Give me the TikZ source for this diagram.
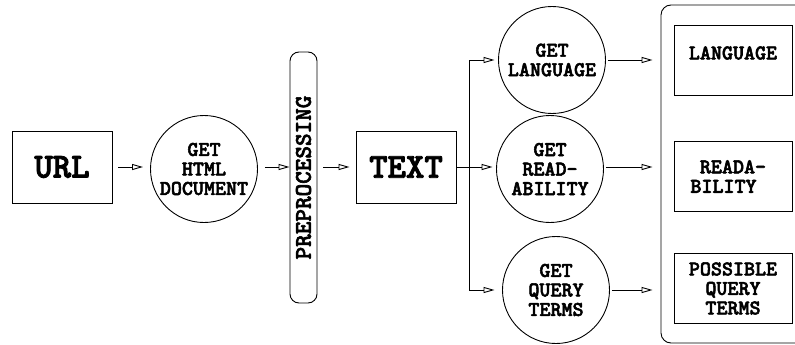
\documentclass[tikz,border=0pt]{standalone}
\usepackage{fontspec}
\newfontfamily\courb{lmmonolt10-bold.otf}[FakeBold=2.5]
\usetikzlibrary{arrows.meta}
\begin{document}
\begin{tikzpicture}[x=1pt,y=-1pt,line width=0.9pt,
  big/.style={font=\fontsize{35}{37}\selectfont\courb},
  sm/.style={font=\fontsize{21}{19.5}\selectfont\courb, align=center},
  sq/.style={draw, minimum width=100pt, minimum height=72pt, inner sep=0pt, big},
  circ/.style={draw, circle, minimum size=107pt, inner sep=0pt, sm},
  res/.style={draw, minimum width=118pt, minimum height=70pt, inner sep=0pt, sm},
  arr/.style={-{Triangle[open,length=11pt,width=6pt]}}]
\useasboundingbox (0,0) rectangle (795,345);
% nodes
\node[sq] (url) at (62,167) {URL};
\node[circ] (html) at (204,169) {GET\\HTML\\DOCUMENT};
\node[draw, rounded corners=9pt, minimum width=27pt, minimum height=251pt, inner sep=0pt,
      font=\fontsize{24}{26}\selectfont\courb] (pre) at (303.5,177.5) {\rotatebox{90}{PREPROCESSING}};
\node[sq] (text) at (406,167) {TEXT};
\coordinate (split) at (469,167);
\node[circ] (cL) at (552,60) {GET\\LANGUAGE};
\node[circ] (cR) at (550,169) {GET\\READ-\\ABILITY};
\node[circ] (cQ) at (556,290) {GET\\QUERY\\TERMS};
\node[draw, rounded corners=10pt, minimum width=150pt, minimum height=338pt, inner sep=0pt] (outer) at (736,174) {};
\node[res] (bL) at (733,60) {\raisebox{7pt}[\height][\depth]{LANGUAGE}};
\node[res] (bR) at (733,176.5) {READA-\\BILITY\hspace*{19pt}};
\node[res] (bQ) at (733,288.5) {POSSIBLE\\QUERY\\TERMS};
% connectors
\draw[arr, shorten <=6pt, shorten >=7pt] (url.east) -- (url.east -| html.west);
\draw[arr, shorten <=7pt] (html.east |- url.east) -- (html.east |- url.east -| pre.west);
\draw[arr, shorten <=6pt, shorten >=6pt] (pre.east |- text.west) -- (text.west);
\draw (text.east) -- (split);
\draw[arr, shorten >=3.5pt] (split) |- (cL.west);
\draw[arr, shorten >=3.5pt] (split) -- (split -| cR.west);
\draw[arr, shorten >=7.5pt] (split) |- (cQ.west);
\draw[arr, shorten <=2pt, shorten >=8pt] (cL.east) -- (cL.east -| outer.west);
\draw[arr, shorten <=2pt, shorten >=8pt] (split -| cR.east) -- (split -| outer.west);
\draw[arr, shorten <=2pt, shorten >=8pt] (cQ.east) -- (cQ.east -| outer.west);
\end{tikzpicture}
\end{document}
